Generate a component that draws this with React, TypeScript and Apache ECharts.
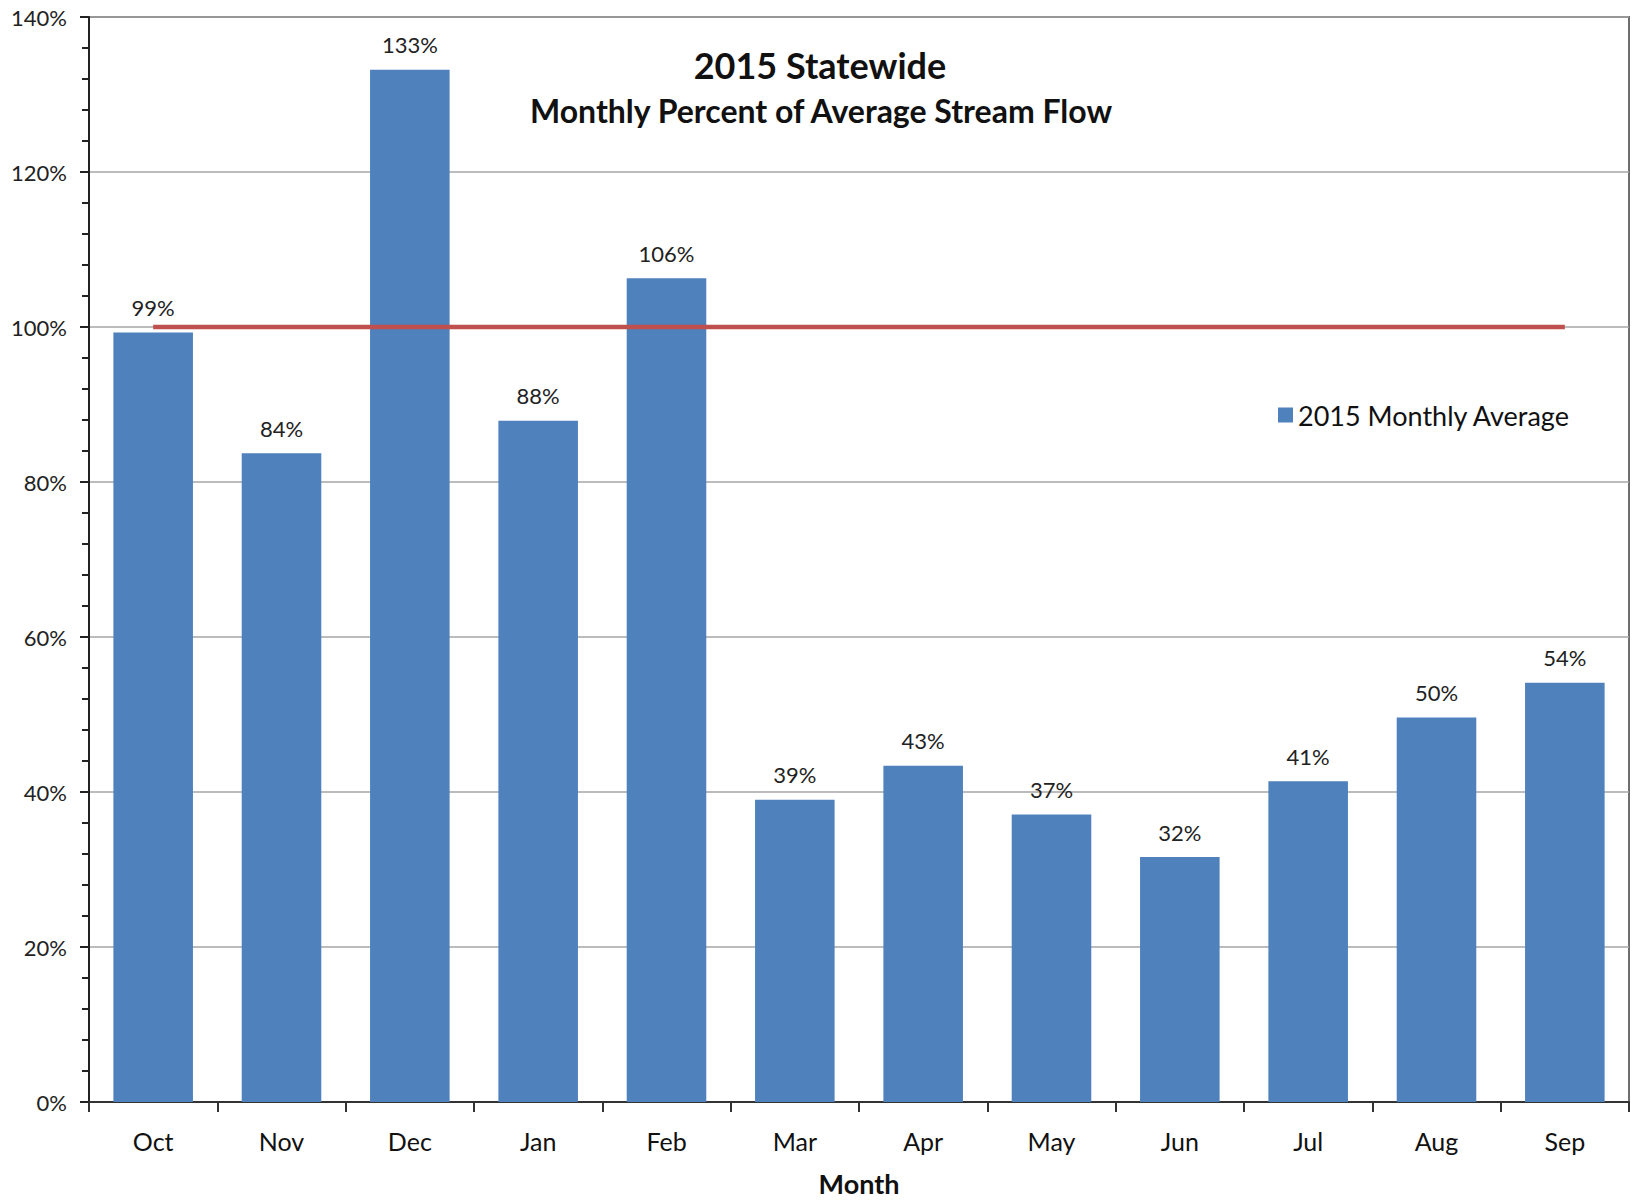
import React, { useEffect, useRef } from "react";
import * as echarts from "echarts";

const months = ["Oct", "Nov", "Dec", "Jan", "Feb", "Mar", "Apr", "May", "Jun", "Jul", "Aug", "Sep"];
const monthlyAverage = [99.3, 83.7, 133.2, 87.9, 106.3, 39.0, 43.4, 37.1, 31.6, 41.4, 49.6, 54.1];
const averageLine = [100, 100, 100, 100, 100, 100, 100, 100, 100, 100, 100, 100];
const seriesName = "2015 Monthly Average";
const titleLine1 = "2015 Statewide";
const titleLine2 = "Monthly Percent of Average Stream Flow";
const xAxisName = "Month";

const FONT = "Lato";

export default function App() {
  const ref = useRef<HTMLDivElement>(null);
  useEffect(() => {
    if (!ref.current) return;
    const chart = echarts.init(ref.current, null, { renderer: "svg" });
    chart.setOption({
      animation: false,
      backgroundColor: "#ffffff",
      textStyle: { fontFamily: FONT },
      grid: {
        left: 89,
        right: 4,
        top: 17,
        bottom: 95,
        show: true,
        borderColor: "#6e6e6e",
        borderWidth: 2,
        backgroundColor: "transparent",
      },
      graphic: [
        {
          type: "text",
          x: 820,
          y: 65,
          style: {
            text: titleLine1,
            font: `bold 36px ${FONT}`,
            fill: "#111",
            align: "center",
            verticalAlign: "middle",
          },
        },
        {
          type: "text",
          x: 821,
          y: 110,
          style: {
            text: titleLine2,
            font: `bold 32px ${FONT}`,
            fill: "#111",
            align: "center",
            verticalAlign: "middle",
          },
        },
      ],
      legend: {
        data: [seriesName],
        left: 1273,
        top: 395,
        icon: "rect",
        itemWidth: 15,
        itemHeight: 15,
        textStyle: { fontFamily: FONT, fontSize: 27, color: "#111", lineHeight: 30 },
      },
      xAxis: {
        type: "category",
        data: months,
        name: xAxisName,
        nameLocation: "middle",
        nameGap: 67,
        nameTextStyle: { fontFamily: FONT, fontSize: 27, fontWeight: "bold", color: "#111", lineHeight: 28 },
        axisLine: { lineStyle: { color: "#333", width: 2 } },
        axisTick: { show: true, length: 10, lineStyle: { color: "#333", width: 2 } },
        axisLabel: { margin: 26, fontFamily: FONT, fontSize: 25, color: "#111", lineHeight: 26 },
      },
      yAxis: {
        type: "value",
        min: 0,
        max: 140,
        interval: 20,
        axisLine: { show: true, lineStyle: { color: "#222", width: 2 } },
        axisTick: { show: true, length: 9, lineStyle: { color: "#222", width: 2 } },
        minorTick: { show: true, splitNumber: 5, length: 7, lineStyle: { color: "#222", width: 2 } },
        splitLine: { show: true, lineStyle: { color: "#a6a6a6", width: 1.5 } },
        axisLabel: { margin: 22, fontFamily: FONT, fontSize: 22, color: "#222", formatter: "{value}%" },
      },
      series: [
        {
          name: seriesName,
          type: "bar",
          data: monthlyAverage,
          barWidth: "62%",
          itemStyle: { color: "#4f81bd" },
          z: 2,
          label: {
            show: true,
            position: "top",
            distance: 14,
            fontFamily: FONT,
            fontSize: 22,
            color: "#222",
            formatter: (p: any) => `${Math.round(p.value)}%`,
          },
        },
        {
          name: "Average",
          type: "line",
          data: averageLine,
          symbol: "none",
          z: 3,
          lineStyle: { color: "#c0504d", width: 4.5 },
          itemStyle: { color: "#c0504d" },
        },
      ],
    });
    return () => chart.dispose();
  }, []);
  return (
    <div
      ref={ref}
      style={{ position: "absolute", left: 0, top: 0, width: 1633, height: 1202 }}
    />
  );
}
